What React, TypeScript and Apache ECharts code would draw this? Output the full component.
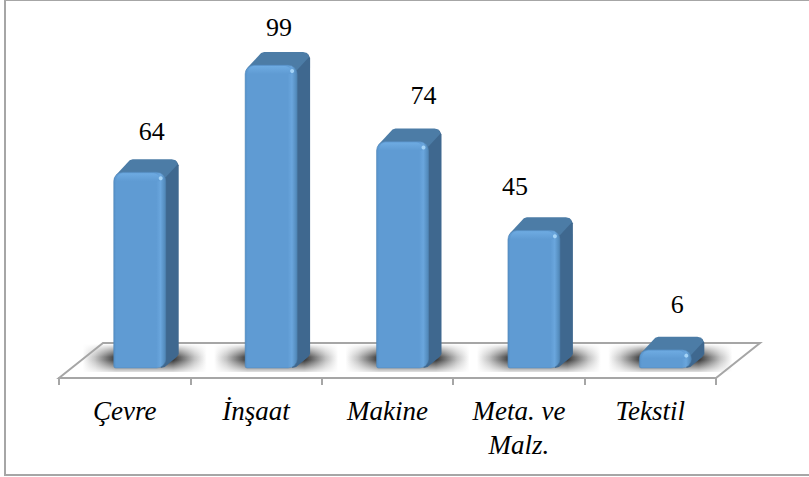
import React, { useEffect, useRef } from "react";
import * as echarts from "echarts";

const categories = ["Çevre", "İnşaat", "Makine", "Meta. ve\nMalz.", "Tekstil"];
const values = [64, 99, 74, 45, 6];
// manual nudges of the value labels, as in the reference [dx, dy from the bar's front top]
const labelNudge = [[12, -41], [8, -38], [21, -46], [-19, -44], [12, -45]];

const W = 809, H = 477;
const BAR_W = 52, DX = 13, DY = 13, SHIFT = 15;
const SERIF = '"Liberation Serif", "Times New Roman", serif';

function renderBar(params: any, api: any) {
  const i = api.value(0);
  const v = api.value(1);
  const base = api.coord([i, 0]);
  const top = api.coord([i, v]);
  const cx = base[0] + SHIFT;
  const x0 = cx - BAR_W / 2, x1 = cx + BAR_W / 2;
  const y0 = top[1], y1 = base[1];
  const h = y1 - y0;
  const r = Math.min(9, h / 2);
  const children: any[] = [
    {
      type: "polygon",
      shape: { points: [[x1 - 5, y0 + 3], [x1 + DX - 8, y0 - DY + 4], [x1 + DX - 2, y0 - DY + 2], [x1 + DX, y0 - DY + 6], [x1 + DX, y1 - DY - 1], [x1 + DX - 2, y1 - DY + 2], [x1 - 1, y1 - 1], [x1 - 5, y1]] },
      style: { fill: "#3f688f" },
    },
    {
      type: "polygon",
      shape: { points: [[x0 + 1, y0 + 5], [x0 + 3, y0 + 2], [x0 + DX + 3, y0 - DY + 1], [x0 + DX + 6, y0 - DY], [x1 + DX - 7, y0 - DY], [x1 + DX - 3, y0 - DY + 1], [x1 + DX - 1, y0 - DY + 5], [x1, y0 + 5]] },
      style: { fill: "#4c7ca6" },
    },
    {
      type: "rect",
      shape: { x: x0, y: y0, width: BAR_W, height: h, r: [r, r, r, 2] },
      style: {
        fill: { type: "linear", x: 0, y: 0, x2: 1, y2: 0, colorStops: [
          { offset: 0, color: "#5590c8" }, { offset: 0.05, color: "#5f9bd3" }, { offset: 0.82, color: "#5f9bd3" },
          { offset: 0.9, color: "#6aa6dd" }, { offset: 1, color: "#4f86b6" } ] },
        stroke: "#5286b6", lineWidth: 0.5,
      },
    },
    {
      type: "rect",
      shape: { x: x0 + 3, y: y0 + 1, width: BAR_W - 9, height: Math.min(8, h / 2), r: [6, 6, 0, 0] },
      style: {
        fill: { type: "linear", x: 0, y: 0, x2: 0, y2: 1, colorStops: [
          { offset: 0, color: "#6eabe2" }, { offset: 1, color: "#5f9bd3" } ] },
      },
    },
    { type: "circle", shape: { cx: x1 - 5, cy: y0 + 6, r: 2 }, style: { fill: "#a5d4f7" } },
    {
      type: "text",
      style: {
        x: cx + labelNudge[i][0], y: y0 + labelNudge[i][1], text: String(v),
        font: `26px ${SERIF}`, fill: "#000", align: "center", verticalAlign: "middle",
      },
    },
  ];
  return { type: "group", children };
}

function floorPoints(api: any) {
  const b = api.coord([0, 0])[1];
  const size = api.size([1, 0])[0];
  const left = api.coord([0, 0])[0] - size / 2;
  const right = left + size * categories.length;
  const front = b + 10, back = front - 35, skew = 44;
  return { left, right, front, back, skew };
}

function renderFloorFill(params: any, api: any) {
  const { left, right, front, back, skew } = floorPoints(api);
  return {
    type: "polygon",
    shape: { points: [[left, front], [left + skew, back], [right + skew, back], [right, front]] },
    style: { fill: "#fff" },
  };
}

function renderFloorEdge(params: any, api: any) {
  const { left, right, front, back, skew } = floorPoints(api);
  return {
    type: "polygon",
    shape: { points: [[left, front], [left + skew, back], [right + skew, back], [right, front]] },
    style: { fill: "none", stroke: "#a6a6a6", lineWidth: 2 },
  };
}

function renderShadow(params: any, api: any) {
  const p = api.coord([api.value(0), 0]);
  const cx = p[0] + SHIFT + 5;
  return {
    type: "rect",
    shape: { x: cx - 62, y: p[1] - 24, width: 124, height: 28 },
    style: {
      fill: { type: "linear", x: 0, y: 0, x2: 1, y2: 0, colorStops: [
        { offset: 0, color: "rgba(55,55,55,0)" }, { offset: 0.1, color: "rgba(55,55,55,0.3)" },
        { offset: 0.27, color: "rgba(55,55,55,1)" }, { offset: 0.73, color: "rgba(55,55,55,1)" },
        { offset: 0.9, color: "rgba(55,55,55,0.3)" }, { offset: 1, color: "rgba(55,55,55,0)" } ] },
    },
  };
}

function renderShadowMask(params: any, api: any) {
  const { left, right, front, back, skew } = floorPoints(api);
  const fade = (y: number, height: number, up: boolean) => ({
    type: "rect",
    shape: { x: left - 5, y, width: right + skew - left + 10, height },
    style: {
      fill: { type: "linear", x: 0, y: 0, x2: 0, y2: 1, colorStops: [
        { offset: 0, color: up ? "rgba(255,255,255,1)" : "rgba(255,255,255,0)" },
        { offset: 1, color: up ? "rgba(255,255,255,0)" : "rgba(255,255,255,1)" } ] },
    },
  });
  return { type: "group", children: [fade(back + 1, 13, true), fade(front - 18, 14, false)] };
}

export default function App() {
  const ref = useRef<HTMLDivElement>(null);
  useEffect(() => {
    const chart = echarts.init(ref.current!, undefined, { renderer: "svg" });
    const pts = values.map((v, i) => [i, v]);
    chart.setOption({
      animation: false,
      backgroundColor: "#fff",
      grid: { left: 59, right: W - 716, top: 62, bottom: H - 368, containLabel: false },
      xAxis: {
        type: "category",
        data: categories,
        offset: 10,
        z: 5,
        axisLine: { show: true, onZero: false, lineStyle: { color: "#a6a6a6", width: 2 } },
        axisTick: { show: true, length: 7, lineStyle: { color: "#a6a6a6", width: 2 } },
        axisLabel: { color: "#000", fontFamily: SERIF, fontStyle: "italic", fontSize: 27, margin: 16, lineHeight: 34, interval: 0 },
      },
      yAxis: { type: "value", min: 0, max: 100, show: false, splitLine: { show: false } },
      graphic: [{
        type: "polyline", silent: true,
        shape: { points: [[W + 2, 0], [5, 0], [5, 475], [W + 2, 475]] },
        style: { fill: "none", stroke: "#a6a6a6", lineWidth: 2 },
      }],
      series: [
        { type: "custom", name: "floor", data: [[0, 0]], renderItem: renderFloorFill, z: 1, clip: false, silent: true },
        { type: "custom", name: "shadow", data: pts, renderItem: renderShadow, z: 2, clip: false, silent: true },
        { type: "custom", name: "mask", data: [[0, 0]], renderItem: renderShadowMask, z: 3, clip: false, silent: true },
        { type: "custom", name: "edge", data: [[0, 0]], renderItem: renderFloorEdge, z: 4, clip: false, silent: true },
        { type: "custom", name: "bars", data: pts, renderItem: renderBar, z: 5, clip: false, encode: { x: 0, y: 1 } },
      ],
    });
    return () => chart.dispose();
  }, []);
  return <div ref={ref} style={{ position: "fixed", left: 0, top: 0, width: W, height: H }} />;
}
